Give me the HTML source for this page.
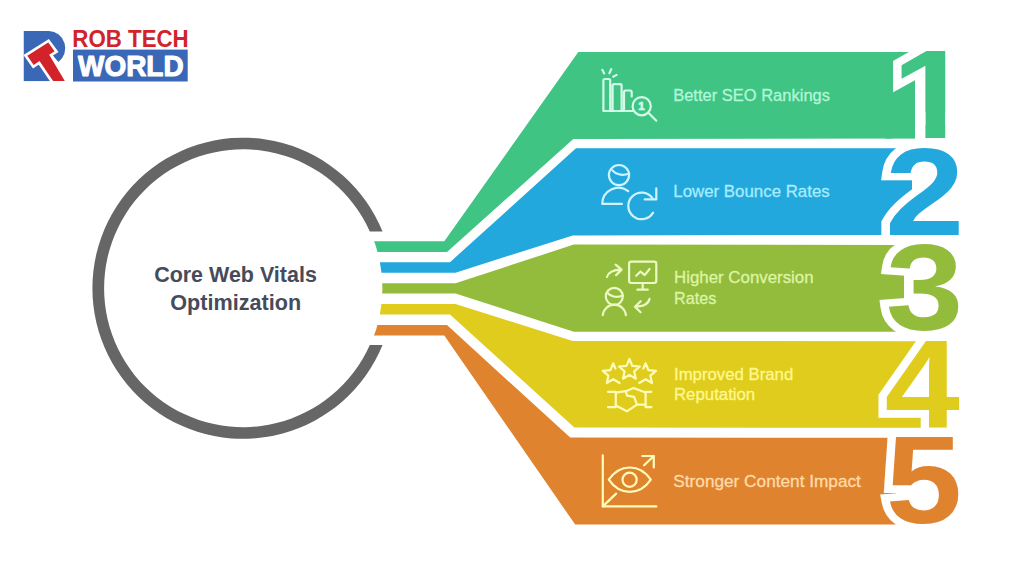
<!DOCTYPE html>
<html lang="en"><head><meta charset="utf-8"><title>Core Web Vitals Optimization</title>
<style>html,body{margin:0;padding:0;background:#ffffff;}body{width:1024px;height:576px;overflow:hidden;}svg{display:block;}text{font-family:"Liberation Sans", sans-serif;}.lbl{font-size:17px;stroke-width:.3;}.num{font-weight:700;font-size:100px;stroke:#ffffff;stroke-width:16;vector-effect:non-scaling-stroke;stroke-linejoin:miter;stroke-miterlimit:3;paint-order:stroke fill;}.ic{fill:none;stroke-width:2.2;stroke-linecap:round;stroke-linejoin:round;}</style></head><body>
<svg width="1024" height="576" viewBox="0 0 1024 576">
<rect width="1024" height="576" fill="#ffffff"/>
<polygon points="360.0,241.2 444.3,241.2 578.3,52.0 915.0,52.0 915.0,138.6 573.3,138.9 447.0,252.0 360.0,252.0" fill="#3fc483"/>
<polygon points="360.0,262.2 450.0,262.2 576.0,148.3 912.0,148.3 912.0,234.9 572.7,235.4 455.5,272.7 360.0,272.7" fill="#22a8dc"/>
<polygon points="360.0,283.2 455.5,283.2 573.8,244.6 904.0,244.9 904.0,331.7 573.8,331.7 455.5,293.4 360.0,293.4" fill="#93bc3d"/>
<polygon points="360.0,304.0 455.5,304.0 572.7,340.9 922.0,341.3 922.0,427.8 574.4,427.6 450.0,314.6 360.0,314.6" fill="#e0cc1c"/>
<polygon points="360.0,325.1 447.0,325.1 570.2,437.6 896.0,437.8 896.0,524.6 575.2,524.6 444.3,335.6 360.0,335.6" fill="#e0832f"/>
<circle cx="243" cy="288.25" r="139.4" fill="#ffffff"/>
<path d="M382.54,231.6 A150.6,150.6 0 1 0 382.54,344.9 L369.82,344.9 A138.9,138.9 0 1 1 369.82,231.6 Z" fill="#666666"/>
<text x="235.5" y="281.8" text-anchor="middle" font-size="22.1" font-weight="700" fill="#464b5b" textLength="162.7" lengthAdjust="spacingAndGlyphs">Core Web Vitals</text>
<text x="235.7" y="309.6" text-anchor="middle" font-size="22.1" font-weight="700" fill="#464b5b" textLength="130.8" lengthAdjust="spacingAndGlyphs">Optimization</text>
<polygon points="931,354 931,399 903,399" fill="#ffffff"/>
<text class="num" transform="translate(891.72,138.30) scale(1.4431,1.2616)" fill="#3fc483">1</text>
<rect x="885" y="112" width="30" height="26.6" fill="#3fc483"/>
<rect x="915" y="112" width="10.4" height="40" fill="#ffffff"/>
<rect x="945.2" y="112" width="30" height="40" fill="#ffffff"/>
<text class="num" transform="translate(885.05,234.80) scale(1.4280,1.2388)" fill="#22a8dc">2</text>
<text class="num" transform="translate(885.80,330.33) scale(1.3942,1.2220)" fill="#93bc3d">3</text>
<text class="num" transform="translate(884.86,427.70) scale(1.3498,1.2566)" fill="#e0cc1c">4</text>
<text class="num" transform="translate(885.78,522.99) scale(1.3727,1.2397)" fill="#e0832f">5</text>
<text class="lbl" x="673.2" y="101.3" fill="#b2f7d8" stroke="#b2f7d8" textLength="156.8" lengthAdjust="spacingAndGlyphs">Better SEO Rankings</text>
<text class="lbl" x="673.3" y="197" fill="#a6ecff" stroke="#a6ecff" textLength="156.4" lengthAdjust="spacingAndGlyphs">Lower Bounce Rates</text>
<text class="lbl" x="674" y="283.4" fill="#ddf5a2" stroke="#ddf5a2" textLength="139.6" lengthAdjust="spacingAndGlyphs">Higher Conversion</text>
<text class="lbl" x="674" y="304" fill="#ddf5a2" stroke="#ddf5a2" textLength="42.3" lengthAdjust="spacingAndGlyphs">Rates</text>
<text class="lbl" x="674" y="380" fill="#fff890" stroke="#fff890" textLength="119.2" lengthAdjust="spacingAndGlyphs">Improved Brand</text>
<text class="lbl" x="674" y="400.3" fill="#fff890" stroke="#fff890" textLength="81.2" lengthAdjust="spacingAndGlyphs">Reputation</text>
<text class="lbl" x="673.3" y="487" fill="#ffdba8" stroke="#ffdba8" textLength="187.6" lengthAdjust="spacingAndGlyphs">Stronger Content Impact</text>
<g class="ic" stroke="#d2fbe8">
<!-- icon 1: ranking bars + magnifier -->
<path d="M602.3,69.8 L604.2,73.4 M611.2,69.2 L609.4,73.3 M616.6,74.9 L613.2,76.7"/>
<path d="M603.4,111 V80.5 Q603.4,79 604.9,79 H608.7 Q610.2,79 610.2,80.5 V111 M612.6,111 V85.6 Q612.6,84.1 614.1,84.1 H620.1 Q621.6,84.1 621.6,85.6 V111 M624,111 V92 Q624,90.5 625.5,90.5 H630 Q631.7,90.5 631.7,92.2 V96.5 M603.4,111 H632.6"/>
<circle cx="641.7" cy="106.2" r="9.1"/>
<path d="M648.3,112.8 L656.3,120.8"/>
</g>
<g class="ic" stroke="#cef4ff">
<!-- icon 2: person + refresh -->
<circle cx="619" cy="175.1" r="10.1"/>
<path d="M612.4,170.4 C615,173.6 621.5,176.6 629.2,173.4"/>
<path d="M621.9,203.9 H602.3 A16,16 0 0 1 628.2,191.2"/>
<path d="M652.6,198.4 A13.3,13.3 0 1 0 653.1,212.6"/>
<path d="M644.7,199.4 H656.3 V188.3"/>
</g>
<g class="ic" stroke="#ecf9c4">
<!-- icon 3: conversion -->
<rect x="629.1" y="261.7" width="27.2" height="21.3" rx="2.2"/>
<path d="M642.7,283 V289.7 M637.4,289.7 H647.8"/>
<path d="M636.2,275.7 L640.5,271.5 L644.7,275.1 L649.6,269"/>
<path d="M607,277 Q609,269.8 621.2,269.6 M615.6,264.6 L621.6,269.6 L616.1,275.1"/>
<circle cx="614.3" cy="296.4" r="8.5"/>
<path d="M607.2,292.8 C610,296 616.5,298.6 622.6,295.6"/>
<path d="M602.8,315.2 A11.6,11.6 0 0 1 625.9,315.2"/>
<path d="M649.6,298.8 Q648,306.4 635.4,306.7 M640.6,301.2 L635,306.7 L640.6,312.2"/>
</g>
<g class="ic" stroke="#fffbb8">
<!-- icon 4: stars + handshake -->
<path d="M629.4,359.0 L632.3,365.9 L639.8,366.5 L634.2,371.4 L635.8,378.7 L629.4,374.9 L623.0,378.7 L624.6,371.4 L619.0,366.5 L626.5,365.9 Z"/>
<path d="M619.6,383 L613.2,379.2 L606.8,383 L608.4,375.7 L602.8,370.8 L610.3,370.2 L613.2,363.3 L615.5,368.6"/>
<path d="M639.2,383 L645.6,379.2 L652,383 L650.4,375.7 L656,370.8 L648.5,370.2 L645.6,363.3 L643.3,368.6"/>
<path d="M608,391.8 H615.8 V407.2 H608 M651.3,391.8 H645.6 V407.2 H651.3"/>
<path d="M615.8,392.6 L625.8,391.2 L633.6,387.9 L645.6,392.6 M615.8,405.6 L626.9,411.3 L636.9,404.7 L645.6,404.7"/>
<path d="M625.8,391.2 L627.1,395.6 L634.1,396.9 L636.5,403.4"/>
<!-- icon 5: eye + chart -->
<path d="M602.8,455.3 V506.4 H656.3"/>
<path d="M608.8,479.7 C615,470.5 622,467.5 629.8,467.5 C637.6,467.5 644.6,470.5 650.8,479.7 C644.6,488.9 637.6,491.9 629.8,491.9 C622,491.9 615,488.9 608.8,479.7 Z"/>
<circle cx="629.6" cy="479.7" r="7.1"/>
<path d="M644.1,465.2 L653.8,456 M642.3,456 H653.8 V467.5"/>
<path d="M616.1,493.6 L602.8,506.4"/>
</g>
<text x="641.4" y="110.2" text-anchor="middle" font-size="11.5" font-weight="700" fill="#d2fbe8" stroke="#d2fbe8" stroke-width=".7" style="font-weight:700">1</text>

<g>
<path d="M23.75,30.9 H49 A17.3,17.3 0 0 1 58.4,62 L52,54.5 L42,62 L54,81.25 H23.75 Z" fill="#3a68b7"/>
<polygon points="27.3,55.7 48.2,42.6 54.6,51.3 49.2,54.7 64.8,81.1 53.1,81.1 39.5,61 33.7,64.9" fill="#d2232a" stroke="#ffffff" stroke-width="5.4" stroke-linejoin="miter" paint-order="stroke fill"/>
<rect x="20" y="81.3" width="50" height="6" fill="#ffffff"/>
<rect x="73" y="49.6" width="114.7" height="31.9" fill="#3a68b7"/>
<text x="72.3" y="47.4" font-size="23.1" font-weight="700" fill="#d2232a" textLength="116.4" lengthAdjust="spacingAndGlyphs">ROB TECH</text>
<text x="78" y="75.8" font-size="29.5" font-weight="700" fill="#ffffff" stroke="#ffffff" stroke-width="1.1" stroke-linejoin="round" textLength="105.6" lengthAdjust="spacingAndGlyphs">WORLD</text>
</g>

</svg></body></html>
